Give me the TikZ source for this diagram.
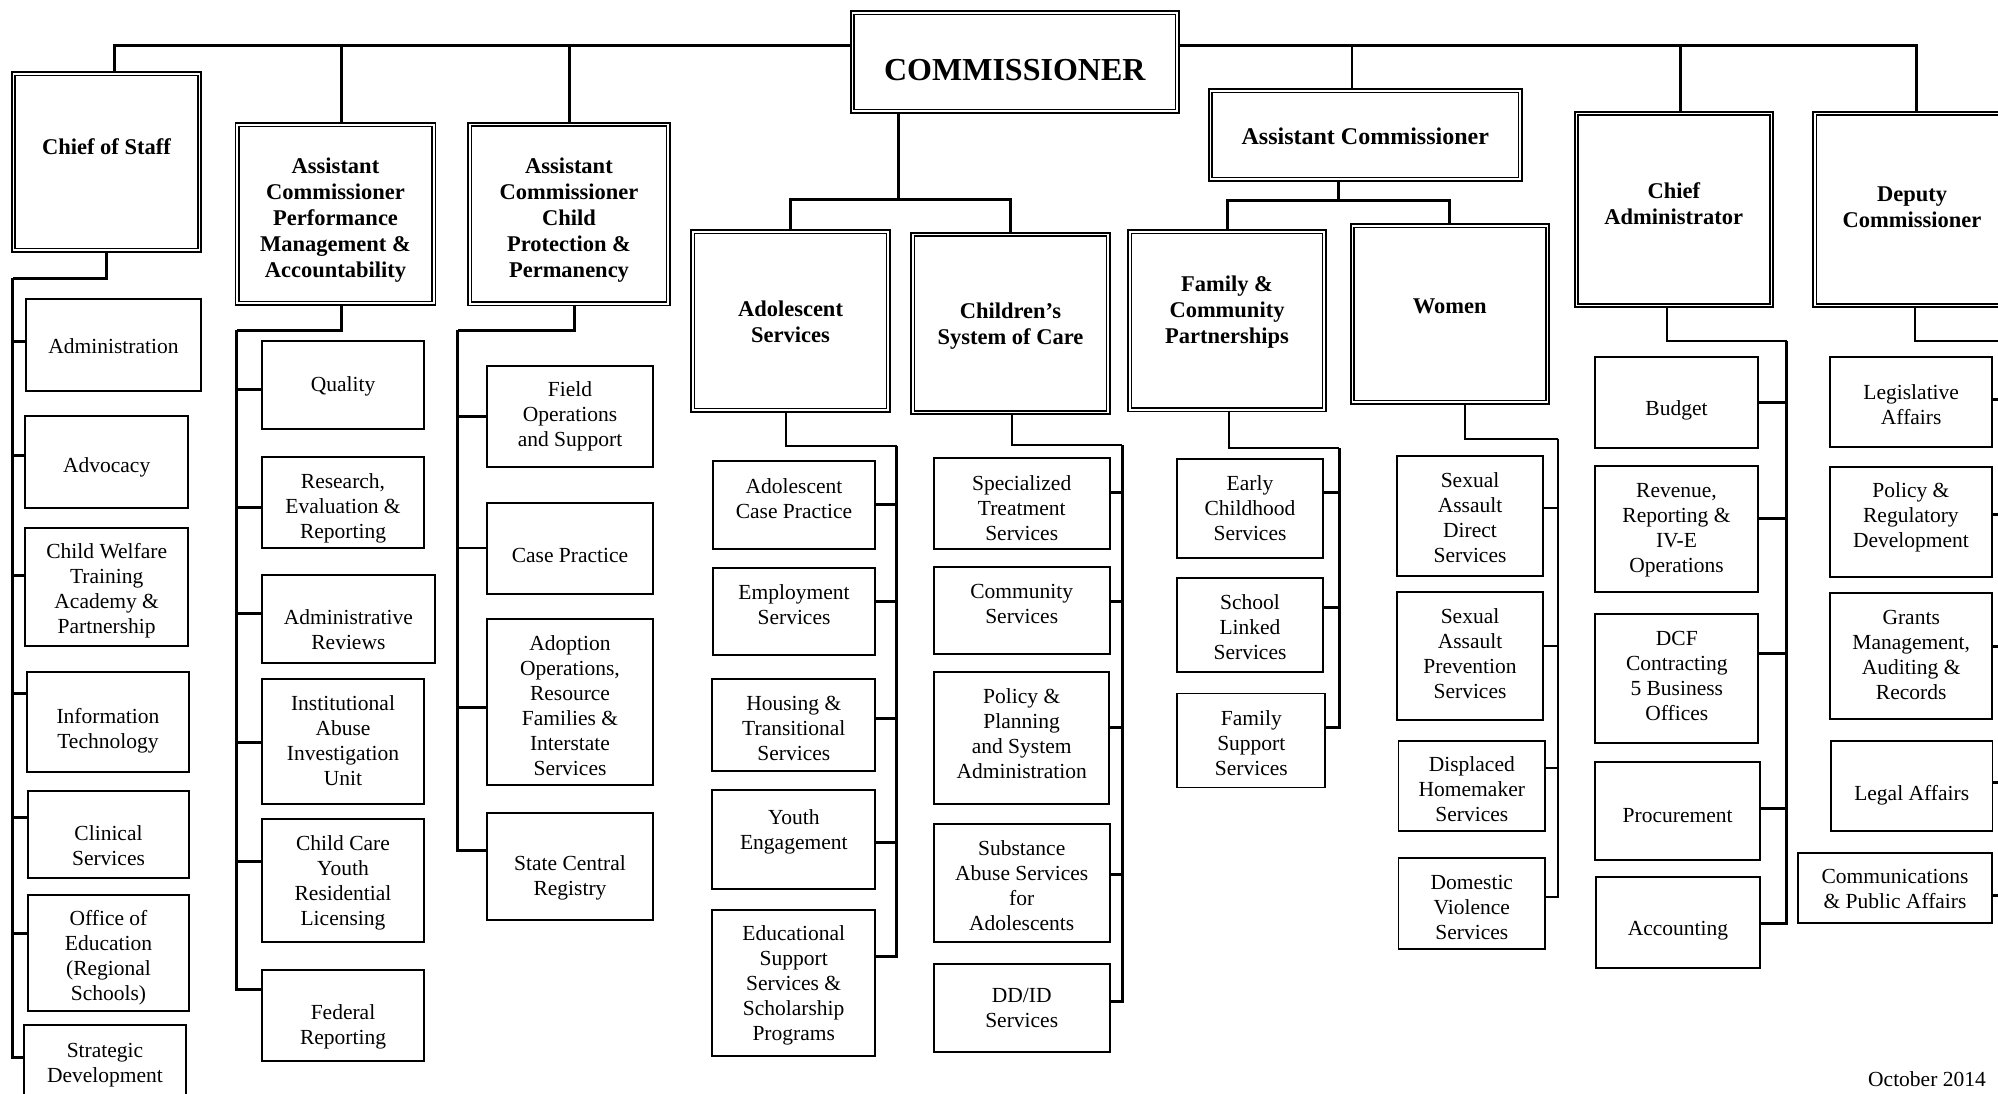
\documentclass[tikz,border=0pt]{standalone}
\usepackage{fontspec}
\setmainfont{Liberation Serif}
\usetikzlibrary{calc}
\newcommand{\orgsub}{\fontsize{21.5}{25}\selectfont}
\newcommand{\orghead}{\bfseries\fontsize{22.5}{26}\selectfont}
\tikzset{
  headbox/.style={draw=black,line width=1.8pt,double,double distance=1.5pt,fill=white,inner sep=0pt},
  subbox/.style={draw=black,line width=1.8pt,fill=white,inner sep=0pt},
  headtext/.style={font=\orghead,align=center,inner sep=0pt},
  subtext/.style={font=\orgsub,align=center,inner sep=0pt,yshift=-2.5pt},
  commtext/.style={font=\bfseries\fontsize{32}{36}\selectfont,inner sep=0pt},
  bus/.style={draw=black,line width=3pt},
  link/.style={draw=black,line width=2pt}
}

\begin{document}
\begin{tikzpicture}[x=1pt,y=-1pt]
  \path[fill=white,use as bounding box] (0,0) rectangle (1998,1093);
  \clip (0,0) rectangle (1998,1093);

  % heads
  \node[headbox,minimum width=324.8,minimum height=98.4,label={[commtext,yshift=-8pt]center:COMMISSIONER}] (comm) at (1014.8,62) {};
  \node[headbox,minimum width=185.7,minimum height=176.4,label={[headtext,yshift=15pt]center:Chief of Staff}] (cos) at (106.4,162) {};
  \node[headbox,minimum width=196.6,minimum height=178.4,label={[headtext,yshift=-6pt]center:{Assistant\\Commissioner\\Performance\\Management \&\\Accountability}}] (pma) at (335.5,214) {};
  \node[headbox,minimum width=198.4,minimum height=179.4,label={[headtext,yshift=-6pt]center:{Assistant\\Commissioner\\Child\\Protection \&\\Permanency}}] (cpp) at (569,214.2) {};
  \node[headbox,minimum width=195.4,minimum height=178.4,label={[headtext,yshift=-1pt]center:{Adolescent\\Services}}] (ado) at (790.5,321) {};
  \node[headbox,minimum width=195.4,minimum height=177.7,label={[headtext,yshift=-3pt]center:{Children’s\\System of Care}}] (csc) at (1010.5,323.4) {};
  \node[headbox,minimum width=309.8,minimum height=88.4,label={[headtext,font=\bfseries\fontsize{24}{28}\selectfont,yshift=-1pt]center:Assistant Commissioner}] (asc) at (1365.3,135) {};
  \node[headbox,minimum width=194.4,minimum height=177.9,label={[headtext,yshift=9pt]center:{Family \&\\Community\\Partnerships}}] (fcp) at (1227,320.8) {};
  \node[headbox,minimum width=194.9,minimum height=176.4,label={[headtext,yshift=8pt]center:Women}] (wom) at (1449.8,314) {};
  \node[headbox,minimum width=194.9,minimum height=192.2,label={[headtext,yshift=6pt]center:{Chief\\Administrator}}] (cad) at (1673.8,209.4) {};
  \node[headbox,minimum width=194.4,minimum height=192.2,label={[headtext,yshift=2pt]center:{Deputy\\Commissioner}}] (dep) at (1912,209.4) {};

  % chief of staff
  \node[subbox,minimum width=175,minimum height=91.7,label={[subtext,yshift=1.5pt]center:Administration}] (adm) at (113.5,345.2) {};
  \node[subbox,minimum width=162.7,minimum height=91.7,label={[subtext,yshift=-2.5pt]center:Advocacy}] (adv) at (106.7,461.9) {};
  \node[subbox,minimum width=162.7,minimum height=118,label={[subtext,yshift=-1.5pt]center:{Child Welfare\\Training\\Academy \&\\Partnership}}] (cwt) at (106.7,587) {};
  \node[subbox,minimum width=162.3,minimum height=99.4,label={[subtext,yshift=-6.5pt]center:{Information\\Technology}}] (itc) at (107.9,722) {};
  \node[subbox,minimum width=161,minimum height=87,label={[subtext,yshift=-9pt]center:{Clinical\\Services}}] (cli) at (108.5,834.5) {};
  \node[subbox,minimum width=161,minimum height=115.7,label={[subtext,yshift=-2pt]center:{Office of\\Education\\(Regional\\Schools)}}] (oed) at (108.5,952.9) {};
  \node[subbox,minimum width=162,minimum height=74,label={[subtext,yshift=-0.5pt]center:{Strategic\\Development}}] (sdv) at (105,1062) {};

  % performance management
  \node[subbox,minimum width=162.6,minimum height=88.3,label={[subtext,yshift=1.5pt]center:Quality}] (qly) at (343,384.9) {};
  \node[subbox,minimum width=162.6,minimum height=90.4,label={[subtext,yshift=-3.5pt]center:{Research,\\Evaluation \&\\Reporting}}] (rer) at (343,502.5) {};
  \node[subbox,minimum width=173.3,minimum height=88,label={[subtext,yshift=-7.5pt]center:{Administrative\\Reviews}}] (arv) at (348.4,619.3) {};
  \node[subbox,minimum width=162.6,minimum height=125,label={[subtext,yshift=3.5pt]center:{Institutional\\Abuse\\Investigation\\Unit}}] (iai) at (343,741.5) {};
  \node[subbox,minimum width=162.6,minimum height=123,label={[subtext]center:{Child Care\\Youth\\Residential\\Licensing}}] (ccy) at (343,880.8) {};
  \node[subbox,minimum width=162.6,minimum height=90.7,label={[subtext,yshift=-9pt]center:{Federal\\Reporting}}] (fed) at (343,1015.3) {};

  % child protection
  \node[subbox,minimum width=166.1,minimum height=101,label={[subtext,yshift=2pt]center:{Field\\Operations\\and Support}}] (fop) at (570,416.2) {};
  \node[subbox,minimum width=166.1,minimum height=91.3,label={[subtext,yshift=-4.5pt]center:Case Practice}] (cpr) at (570,548.4) {};
  \node[subbox,minimum width=166.6,minimum height=166,label={[subtext,yshift=-1.5pt]center:{Adoption\\Operations,\\Resource\\Families \&\\Interstate\\Services}}] (aor) at (570,702) {};
  \node[subbox,minimum width=166.6,minimum height=106.7,label={[subtext,yshift=-8.5pt]center:{State Central\\Registry}}] (scr) at (570,866.7) {};

  % adolescent services
  \node[subbox,minimum width=162.5,minimum height=88,label={[subtext,yshift=9pt]center:{Adolescent\\Case Practice}}] (acp) at (794,504.7) {};
  \node[subbox,minimum width=162.5,minimum height=87.6,label={[subtext,yshift=9.5pt]center:{Employment\\Services}}] (emp) at (794,611.5) {};
  \node[subbox,minimum width=163,minimum height=92,label={[subtext,yshift=-1pt]center:{Housing \&\\Transitional\\Services}}] (hts) at (793.8,724.7) {};
  \node[subbox,minimum width=163,minimum height=98.7,label={[subtext,yshift=10pt]center:{Youth\\Engagement}}] (yen) at (793.8,839.7) {};
  \node[subbox,minimum width=162.7,minimum height=146,label={[subtext]center:{Educational\\Support\\Services \&\\Scholarship\\Programs}}] (ess) at (793.7,983) {};

  % children's system of care
  \node[subbox,minimum width=175.8,minimum height=91.3,label={[subtext,yshift=-2pt]center:{Specialized\\Treatment\\Services}}] (stt) at (1021.7,503.4) {};
  \node[subbox,minimum width=175.8,minimum height=87.6,label={[subtext,yshift=9.5pt]center:{Community\\Services}}] (cms) at (1021.7,610.5) {};
  \node[subbox,minimum width=175.3,minimum height=131.7,label={[subtext,yshift=7pt]center:{Policy \&\\Planning\\and System\\Administration}}] (ppa) at (1021.7,738.2) {};
  \node[subbox,minimum width=175.8,minimum height=118,label={[subtext]center:{Substance\\Abuse Services\\for\\Adolescents}}] (sas) at (1021.7,883.3) {};
  \node[subbox,minimum width=175.8,minimum height=87.7,label={[subtext,yshift=2.5pt]center:{DD/ID\\Services}}] (ddi) at (1021.7,1008.2) {};

  % family & community
  \node[subbox,minimum width=146.6,minimum height=98.7,label={[subtext,yshift=2.5pt]center:{Early\\Childhood\\Services}}] (ecs) at (1250,508.3) {};
  \node[subbox,minimum width=146.6,minimum height=94,label={[subtext,yshift=1pt]center:{School\\Linked\\Services}}] (sls) at (1250,625.3) {};
  \node[subbox,minimum width=148,minimum height=94,label={[subtext]center:{Family\\Support\\Services}}] (fss) at (1251.3,740.4) {};

  % women
  \node[subbox,minimum width=146.6,minimum height=120,label={[subtext,yshift=1pt]center:{Sexual\\Assault\\Direct\\Services}}] (sad) at (1470,516) {};
  \node[subbox,minimum width=146.6,minimum height=128,label={[subtext,yshift=4.5pt]center:{Sexual\\Assault\\Prevention\\Services}}] (sap) at (1470,656) {};
  \node[subbox,minimum width=146.5,minimum height=90.3,label={[subtext,yshift=-0.5pt]center:{Displaced\\Homemaker\\Services}}] (dhs) at (1471.8,785.9) {};
  \node[subbox,minimum width=146.5,minimum height=91.3,label={[subtext,yshift=-1.5pt]center:{Domestic\\Violence\\Services}}] (dvs) at (1471.8,903.7) {};

  % chief administrator
  \node[subbox,minimum width=162.4,minimum height=91,label={[subtext,yshift=-6pt]center:Budget}] (bud) at (1676.5,402.2) {};
  \node[subbox,minimum width=162.4,minimum height=126.3,label={[subtext,yshift=1pt]center:{Revenue,\\Reporting \&\\IV-E\\Operations}}] (rev) at (1676.5,529.2) {};
  \node[subbox,minimum width=163,minimum height=129.3,label={[subtext,yshift=5.5pt]center:{DCF\\Contracting\\5 Business\\Offices}}] (dcf) at (1676.8,678.7) {};
  \node[subbox,minimum width=164.7,minimum height=98,label={[subtext,yshift=-2pt]center:Procurement}] (pro) at (1677.6,811) {};
  \node[subbox,minimum width=163.8,minimum height=91.3,label={[subtext,yshift=-6pt]center:Accounting}] (acc) at (1677.9,922.3) {};

  % deputy commissioner
  \node[subbox,minimum width=162.3,minimum height=90.6,label={[subtext,yshift=-0.5pt]center:{Legislative\\Affairs}}] (lga) at (1911.2,402) {};
  \node[subbox,minimum width=161.7,minimum height=110,label={[subtext,yshift=7pt]center:{Policy \&\\Regulatory\\Development}}] (prd) at (1910.9,521.7) {};
  \node[subbox,minimum width=162.3,minimum height=126,label={[subtext,yshift=3.5pt]center:{Grants\\Management,\\Auditing \&\\Records}}] (gma) at (1911.2,656.3) {};
  \node[subbox,minimum width=161.4,minimum height=90,label={[subtext,yshift=-7pt]center:Legal Affairs}] (lgl) at (1911.7,786) {};
  \node[subbox,minimum width=194.7,minimum height=70,label={[subtext,yshift=1.5pt]center:{Communications\\\& Public Affairs}}] (cpa) at (1895,887.7) {};

  \node[subtext,anchor=east] (date) at (1986,1076.5) {October 2014};

  % bus points
  \coordinate (topbus) at (1015,45);
  \coordinate (combus) at (898,199);
  \coordinate (ascbus) at (1338.4,200);
  \coordinate (cosbus) at (12.5,278);
  \coordinate (pmabus) at (236.7,330);
  \coordinate (cppbus) at (457.5,330);
  \coordinate (adobus) at (896.7,446);
  \coordinate (cscbus) at (1122,445);
  \coordinate (fcpbus) at (1339.3,447.7);
  \coordinate (wombus) at (1557.5,439.3);
  \coordinate (cadbus) at (1786.7,340.7);
  \coordinate (depbus) at (2020,340.7);

  % top row
  \foreach \n/\dx in {cos/7.6,pma/6,cpp/0}
    \draw[bus] ($(\n.north)+(\dx,0)$) |- (comm.west |- topbus);
  \foreach \n/\dx in {cad/6.5,dep/4}
    \draw[bus] ($(\n.north)+(\dx,0)$) |- (comm.east |- topbus);
  \draw[link] ($(asc.north)+(-13,0)$) |- (comm.east |- topbus);
  \draw[bus] (comm.south -| combus) -- (combus);
  \draw[bus] (ado.north) |- (combus) -| (csc.north);
  \draw[bus] (asc.south -| ascbus) -- (ascbus);
  \draw[bus] (fcp.north) |- (ascbus) -| (wom.north);

  % left hand buses
  \draw[bus] (cos.south) |- (cosbus);
  \foreach \n/\dy in {adm/4,adv/6,cwt/12,itc/29,cli/17,oed/19,sdv/5}
    \draw[bus] ([yshift=\dy pt]\n.west) -| (cosbus);
  \draw[bus] ($(pma.south)+(5.5,0)$) |- (pmabus);
  \foreach \n/\dy in {qly/-5,rer/-5,arv/6,iai/-1,ccy/19,fed/26}
    \draw[bus] ([yshift=\dy pt]\n.west) -| (pmabus);
  \draw[bus] ($(cpp.south)+(5.3,0)$) |- (cppbus);
  \foreach \n/\dy in {fop/0,aor/-5,scr/16}
    \draw[bus] ([yshift=\dy pt]\n.west) -| (cppbus);
  \draw[link] (cpr.west) -| (cppbus);

  % right hand buses
  \draw[link] ($(ado.south)+(-4.5,0)$) |- (adobus);
  \foreach \n/\dy in {acp/0,emp/10,hts/6,yen/-3,ess/27}
    \draw[bus] ([yshift=\dy pt]\n.east) -| (adobus);
  \draw[link] ($(csc.south)+(1.8,0)$) |- (cscbus);
  \foreach \n/\dy in {stt/11,cms/9,ppa/11,sas/9,ddi/6.5}
    \draw[bus] ([yshift=\dy pt]\n.east) -| (cscbus);
  \draw[link] ($(fcp.south)+(1.7,0)$) |- (fcpbus);
  \foreach \n/\dy in {ecs/16,sls/18,fss/13}
    \draw[bus] ([yshift=\dy pt]\n.east) -| (fcpbus);
  \draw[link] ($(wom.south)+(15,0)$) |- (wombus);
  \foreach \n/\dy in {sad/8,sap/10,dhs/18,dvs/7}
    \draw[link] ([yshift=\dy pt]\n.east) -| (wombus);
  \draw[link] ($(cad.south)+(-6.8,0)$) |- (cadbus);
  \foreach \n/\dy in {bud/0,rev/11,dcf/25,pro/3,acc/-1}
    \draw[bus] ([yshift=\dy pt]\n.east) -| (cadbus);
  \draw[link] ($(dep.south)+(3,0)$) |- (depbus);
  \foreach \n/\dy in {lga/3,prd/7,gma/10,lgl/4,cpa/-8}
    \draw[bus] ([yshift=\dy pt]\n.east) -| (depbus);
\end{tikzpicture}
\end{document}
